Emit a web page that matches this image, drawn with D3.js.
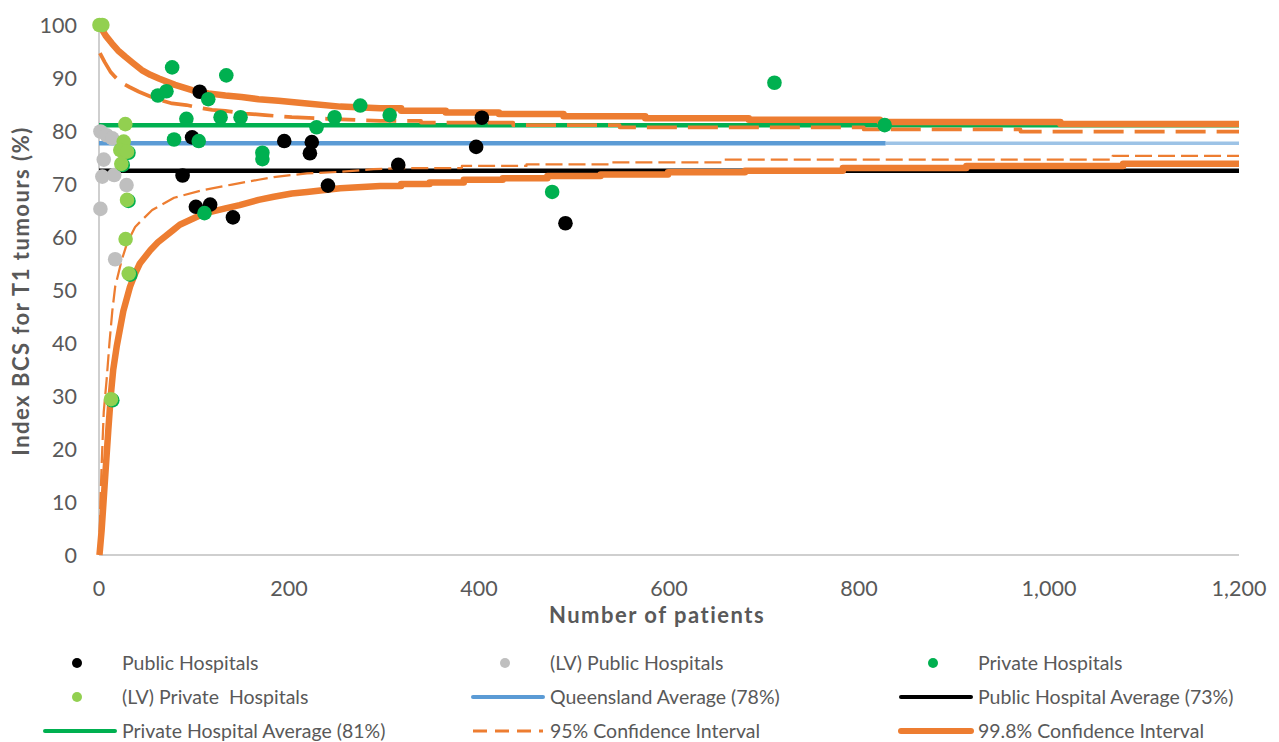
<!DOCTYPE html>
<html>
<head>
<meta charset="utf-8">
<script src="https://cdn.jsdelivr.net/npm/d3@7"></script>
<style>
  html, body { margin: 0; padding: 0; background: #ffffff; }
  svg { display: block; font-family: Lato, "Open Sans", sans-serif; }
  .legend text { white-space: pre; }
</style>
</head>
<body>
<svg id="chart" width="1279" height="742"></svg>
<script>
// Hospital results: [number of patients, index BCS for T1 tumours (%)]
const publicHospitals = [
  [106, 87.4], [98, 78.8], [88, 71.6], [102, 65.7], [117, 66.1], [141, 63.7],
  [195, 78.1], [224, 77.9], [222, 75.8], [241, 69.7], [315, 73.6],
  [397, 77.0], [403, 82.5], [491, 62.6]
];
const lvPublicHospitals = [
  [1.5, 79.9], [8, 79.2], [14, 78.6], [5, 74.6], [3.5, 71.4], [16, 71.7],
  [29, 69.8], [1.5, 65.3], [17, 55.8]
];
const privateHospitals = [
  [77, 92.0], [134, 90.5], [62, 86.7], [71, 87.5], [115, 86.0], [92, 82.3],
  [128, 82.6], [149, 82.6], [79, 78.4], [105, 78.1], [172, 75.9], [172, 74.7],
  [111, 64.5], [229, 80.7], [248, 82.6], [275, 84.8], [306, 83.0], [477, 68.5],
  [711, 89.1], [827, 81.1],
  [31, 75.9], [25, 73.6], [31, 66.8], [33, 52.9], [14, 29.2]
];
const lvPrivateHospitals = [
  [0.5, 100], [3.5, 100], [27.7, 81.3], [26, 78.0], [22.4, 76.4], [29.5, 76.1],
  [23.5, 73.8], [29.5, 67.0], [28, 59.6], [31.3, 53.1], [12.6, 29.4]
];

// State and sector averages (%)
const queenslandAverage = 77.7;
const publicAverage = 72.5;
const privateAverage = 81.1;
const largestHospital = 828;

// Funnel limits around the Queensland average: [patients, limit %]
const ci95Upper = [
  [1, 94.7], [6, 93.0], [12, 91.2], [17, 90.2], [22, 89.3], [32, 88.3], [42, 87.4],
  [54, 86.5], [65, 85.8], [77, 85.2], [92, 84.9], [105, 84.4], [119, 84.0],
  [133, 83.8], [154, 83.3], [175, 83.0], [203, 82.6], [240, 82.3], [296, 81.9],
  [339, 81.9], [339, 81.6], [436, 81.6], [436, 81.1], [548, 81.1], [548, 80.7],
  [805, 80.7], [805, 80.3], [970, 80.3], [970, 79.9], [1200, 79.9]
];
const ci95Lower = [
  [0.3, 0], [1.5, 10], [3, 18], [5, 27], [8, 33], [11, 40], [14, 46], [17, 50.6],
  [24, 55.7], [29.5, 58.8], [38, 61.9], [43, 62.8], [56, 65.1], [79, 67.4],
  [108, 68.8], [140, 69.9], [168, 70.8], [184, 71.3], [203, 71.7], [219, 72.0],
  [254, 72.3], [289, 72.8], [324, 73.0], [382, 73.0], [382, 73.4], [450, 73.4],
  [450, 73.7], [538, 73.7], [538, 74.1], [658, 74.1], [658, 74.6], [1067, 74.6],
  [1067, 75.3], [1200, 75.3]
];
const ci998Upper = [
  [0.5, 100], [1.4, 99.7], [7, 98.0], [13.7, 96.5], [20, 95.2], [27.7, 94.0],
  [36, 92.8], [45, 91.5], [54, 90.6], [63, 89.9], [80, 88.7], [98, 87.7],
  [115, 87.1], [133, 86.7], [150, 86.4], [168, 86.0], [189, 85.7], [219, 85.2],
  [254, 84.6], [296, 84.3], [318, 84.3], [318, 83.8], [365, 83.8], [365, 83.5],
  [421, 83.5], [421, 83.2], [489, 83.2], [489, 82.8], [575, 82.8], [575, 82.4],
  [684, 82.4], [684, 82.1], [822, 82.1], [822, 81.7], [1012, 81.7], [1012, 81.3],
  [1200, 81.3]
];
const ci998Lower = [
  [0.5, 0], [1, 1], [2.8, 4.7], [6.3, 14.2], [9.8, 23.6], [12.6, 30.5], [15, 35],
  [18.6, 39.3], [25.6, 46], [32.6, 50.6], [38, 53.1], [43, 55.0], [54, 57.5],
  [62, 59.0], [78, 61.3], [85, 62.3], [98, 63.4], [110, 64.4], [133, 65.4],
  [148, 66.0], [168, 67.0], [184, 67.6], [203, 68.2], [219, 68.5], [254, 69.2],
  [296, 69.6], [318, 69.6], [318, 70.0], [348, 70.0], [348, 70.3], [384, 70.3],
  [384, 70.8], [425, 70.8], [425, 71.1], [472, 71.1], [472, 71.5], [528, 71.5],
  [528, 71.8], [599, 71.8], [599, 72.2], [680, 72.2], [680, 72.5], [783, 72.5],
  [783, 73.0], [913, 73.0], [913, 73.4], [1078, 73.4], [1078, 73.8], [1200, 73.8]
];

// Axis ticks
const xTicks = [0, 200, 400, 600, 800, 1000, 1200];
const yTicks = [0, 10, 20, 30, 40, 50, 60, 70, 80, 90, 100];

const colors = {
  public: "#000000", lvPublic: "#bfbfbf", private: "#00b050", lvPrivate: "#92d050",
  qld: "#5b9bd5", qldFaint: "#9dc3e6", ci: "#ed7d31", axis: "#bfbfbf", text: "#595959"
};

const svg = d3.select("#chart");
const x = d3.scaleLinear().domain([0, 1200]).range([99, 1239]);
const y = d3.scaleLinear().domain([0, 100]).range([555, 25]);

// Axes
svg.append("line").attr("x1", x(0)).attr("x2", x(0)).attr("y1", y(0)).attr("y2", y(100))
  .attr("stroke", colors.axis).attr("stroke-width", 1.5);
svg.append("line").attr("x1", x(0)).attr("x2", x(1200)).attr("y1", y(0)).attr("y2", y(0))
  .attr("stroke", colors.axis).attr("stroke-width", 1.5);

svg.append("g").selectAll("text").data(yTicks).join("text")
  .attr("x", 77).attr("y", d => y(d)).attr("dy", "0.35em")
  .attr("text-anchor", "end").attr("font-size", 21.5).attr("fill", colors.text)
  .text(d => d);

const fmt = d3.format(",");
svg.append("g").selectAll("text").data(xTicks).join("text")
  .attr("x", d => x(d)).attr("y", 588).attr("dy", "0.35em")
  .attr("text-anchor", "middle").attr("font-size", 21.5).attr("fill", colors.text)
  .text(d => fmt(d));

svg.append("text").attr("x", 657).attr("y", 615).attr("dy", "0.35em")
  .attr("text-anchor", "middle").attr("font-size", 22).attr("font-weight", "bold")
  .attr("letter-spacing", 1.5).attr("fill", colors.text).text("Number of patients");
svg.append("text").attr("transform", "translate(21,291) rotate(-90)").attr("dy", "0.35em")
  .attr("text-anchor", "middle").attr("font-size", 22).attr("font-weight", "bold")
  .attr("letter-spacing", 1.5).attr("fill", colors.text).text("Index BCS for T1 tumours (%)");

// Average lines
const hLine = (v, from, to, color, width) =>
  svg.append("line").attr("x1", x(from)).attr("x2", x(to)).attr("y1", y(v)).attr("y2", y(v))
    .attr("stroke", color).attr("stroke-width", width);
hLine(queenslandAverage, largestHospital, 1200, colors.qldFaint, 3.5);
hLine(queenslandAverage, 0, largestHospital, colors.qld, 4.5);
hLine(publicAverage, 0, 1200, colors.public, 4.5);
hLine(privateAverage, 0, 1200, colors.private, 4.5);

// Funnel limits
const line = d3.line().x(d => x(d[0])).y(d => y(d[1]));
const curve = (data, width, dash) => svg.append("path").datum(data).attr("d", line)
  .attr("fill", "none").attr("stroke", colors.ci).attr("stroke-width", width)
  .attr("stroke-dasharray", dash).attr("stroke-linejoin", "round");
curve(ci95Upper, 3.75, "30 11");
curve(ci95Lower, 2.25, "17 6");
curve(ci998Upper, 6.5, null);
curve(ci998Lower, 6.5, null);

// Hospital points
const dots = (data, color) => svg.append("g").selectAll("circle").data(data).join("circle")
  .attr("cx", d => x(d[0])).attr("cy", d => y(d[1])).attr("r", 7.3).attr("fill", color);
dots(publicHospitals, colors.public);
dots(lvPublicHospitals, colors.lvPublic);
dots(privateHospitals, colors.private);
dots(lvPrivateHospitals, colors.lvPrivate);

// Legend
const legendItems = [
  { label: "Public Hospitals", kind: "dot", color: colors.public },
  { label: "(LV) Public Hospitals", kind: "dot", color: colors.lvPublic },
  { label: "Private Hospitals", kind: "dot", color: colors.private },
  { label: "(LV) Private  Hospitals", kind: "dot", color: colors.lvPrivate },
  { label: `Queensland Average (${Math.round(queenslandAverage)}%)`, kind: "line", color: colors.qld, width: 4 },
  { label: `Public Hospital Average (${Math.round(publicAverage)}%)`, kind: "line", color: colors.public, width: 4 },
  { label: `Private Hospital Average (${Math.round(privateAverage)}%)`, kind: "line", color: colors.private, width: 4 },
  { label: "95% Confidence Interval", kind: "line", color: colors.ci, width: 3, dash: "14 8" },
  { label: "99.8% Confidence Interval", kind: "line", color: colors.ci, width: 6 }
];
const colX = [45, 473, 901];
const rowY = [663, 697, 731];
const legend = svg.append("g").attr("class", "legend");
legendItems.forEach((item, i) => {
  const cx = colX[i % 3], cy = rowY[Math.floor(i / 3)];
  if (item.kind === "dot") {
    legend.append("circle").attr("cx", cx + 32).attr("cy", cy).attr("r", 5).attr("fill", item.color);
  } else {
    legend.append("line").attr("x1", cx).attr("x2", cx + 70).attr("y1", cy).attr("y2", cy)
      .attr("stroke", item.color).attr("stroke-width", item.width)
      .attr("stroke-linecap", item.dash ? "butt" : "round")
      .attr("stroke-dasharray", item.dash || null);
  }
  legend.append("text").attr("x", cx + 77).attr("y", cy).attr("dy", "0.35em")
    .attr("font-size", 19.5).attr("fill", colors.text).text(item.label);
});
</script>
</body>
</html>
